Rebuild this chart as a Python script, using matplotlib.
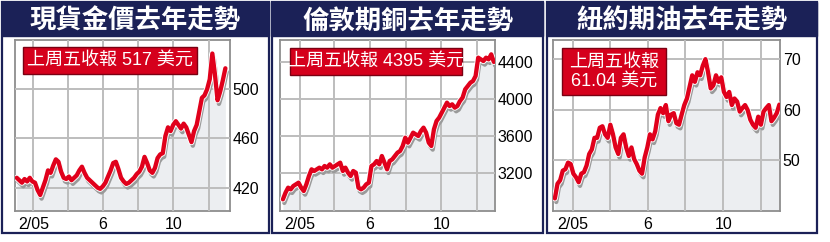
import matplotlib
matplotlib.use("Agg")
import matplotlib.pyplot as plt
import matplotlib.patches as mpatches
import matplotlib.patheffects as pe
import pandas as pd

W, H = 830, 242

# values, one per ~4 trading days
gold = [428, 426, 424, 427, 425, 428, 425, 424, 418, 414, 420, 426, 434, 432, 438, 443,
        441, 433, 428, 427, 429, 426, 428, 430, 434, 437, 432, 428, 426, 424, 422, 420,
        419, 421, 424, 429, 434, 440, 441, 435, 428, 425, 423, 424, 426, 428, 431, 433,
        437, 445, 440, 434, 432, 436, 444, 447, 448, 462, 469, 466, 471, 474, 471, 468,
        472, 469, 463, 457, 466, 471, 482, 493, 495, 500, 508, 529, 512, 491, 498, 507, 517]

copper = [2916, 2988, 3042, 3024, 3060, 3078, 3096, 3042, 3006, 3078, 3168, 3240, 3222, 3240,
          3258, 3240, 3276, 3258, 3294, 3258, 3276, 3294, 3312, 3222, 3258, 3204, 3168, 3222,
          3204, 3042, 3024, 3042, 3078, 3096, 3276, 3294, 3330, 3294, 3384, 3312, 3240, 3330,
          3348, 3384, 3420, 3438, 3492, 3582, 3528, 3582, 3636, 3618, 3600, 3654, 3690, 3636,
          3528, 3492, 3672, 3762, 3798, 3852, 3906, 3960, 3924, 3942, 3906, 3924, 3978, 4014,
          4104, 4140, 4176, 4194, 4248, 4446, 4428, 4410, 4446, 4428, 4482, 4400]

oil = [42.4, 45.3, 46.0, 47.9, 48.2, 49.5, 49.2, 47.3, 46.6, 45.6, 47.3, 47.6, 48.9, 51.2,
       52.1, 54.4, 54.4, 56.4, 56.7, 55.1, 54.4, 57.0, 55.1, 52.5, 51.2, 54.4, 55.1, 52.5,
       50.8, 52.5, 50.2, 49.2, 47.9, 47.3, 50.5, 52.5, 55.1, 54.1, 55.7, 59.0, 60.3, 59.3,
       60.9, 57.7, 59.0, 59.3, 57.3, 57.0, 59.0, 60.9, 62.2, 64.5, 66.8, 65.5, 67.4, 66.8,
       68.7, 70.0, 67.4, 64.2, 64.8, 66.8, 65.5, 66.4, 63.5, 62.5, 63.5, 60.9, 62.2, 61.6,
       59.6, 60.3, 60.9, 59.9, 58.0, 57.0, 56.4, 58.6, 57.0, 59.6, 60.3, 60.9, 57.7, 58.4,
       59.3, 61.0]

series = [gold, copper, oil]
titles = ["現貨金價去年走勢", "倫敦期銅去年走勢", "紐約期油去年走勢"]
notes = ["上周五收報 517 美元", "上周五收報 4395 美元", "上周五收報\n61.04 美元"]
yticks = [[420, 460, 500], [3200, 3600, 4000, 4400], [50, 60, 70]]
ylims = [(401, 540), (2790, 4637), (39.9, 73.8)]
xlims = [("2004-12-31", "2006-01-07"), ("2004-12-29", "2006-01-01"), ("2004-12-31", "2005-12-31")]
month_lines = ["2005-02-01", "2005-04-01", "2005-06-01", "2005-08-01", "2005-10-01", "2005-12-01"]
month_labels = ["2/05", "", "6", "", "10", ""]

# layout in pixels (x from left, y from top)
panels = [(2, 269), (272, 543), (547, 817)]
axes_x = [(15, 230), (280, 495), (553, 780)]
note_boxes = [(23, 47, 197, 74), (290, 48, 462, 75), (562, 48, 666, 95)]

NAVY = "#1b2157"
RED = "#e0001b"
CJK = ["Liberation Sans", "Noto Sans CJK TC"]


def fx(px):
    return px / W


def fy(py):
    return 1 - py / H


fig = plt.figure(figsize=(W / 100, H / 100), dpi=100)
fig.patch.set_facecolor("white")

for i in range(3):
    x0, x1 = panels[i]
    # panel frame and header
    fig.patches.append(mpatches.Rectangle((fx(x0), fy(233)), fx(x1 - x0), (233 - 2) / H,
                                          transform=fig.transFigure, fc="white", ec=NAVY,
                                          lw=1.6, zorder=-2))
    fig.patches.append(mpatches.Rectangle((fx(x0), fy(36)), fx(x1 - x0), 34 / H,
                                          transform=fig.transFigure, fc=NAVY, ec=NAVY,
                                          lw=1.0, zorder=-1))
    fig.text(fx((x0 + x1) / 2), fy(21), titles[i], color="white", fontsize=19,
             fontweight="heavy", family="Noto Sans CJK TC", ha="center", va="center")

    a0, a1 = axes_x[i]
    ax = fig.add_axes([fx(a0), fy(211), fx(a1 - a0), (211 - 40) / H])
    dates = pd.date_range("2005-01-03", "2005-12-30", periods=len(series[i]))
    ax.set_xlim(pd.Timestamp(xlims[i][0]), pd.Timestamp(xlims[i][1]))
    ax.set_ylim(*ylims[i])

    ax.fill_between(dates, series[i], ylims[i][0], color="#eceef1", lw=0, zorder=1)
    ax.plot(dates, series[i], color=RED, lw=3.1, zorder=3, solid_capstyle="round",
            path_effects=[pe.SimpleLineShadow(offset=(1.0, -2.6), shadow_color="#9a9a9a", alpha=1.0),
                          pe.Stroke(linewidth=4.4, foreground="white"), pe.Normal()])

    ax.set_xticks([pd.Timestamp(d) for d in month_lines])
    ax.set_xticklabels(month_labels)
    ax.set_yticks(yticks[i])
    ax.set_yticklabels([str(v) for v in yticks[i]])
    ax.yaxis.tick_right()
    ax.tick_params(length=0, labelsize=11.5, colors="black")
    ax.tick_params(axis="y", pad=2)
    ax.tick_params(axis="x", pad=4)
    for lab in ax.get_xticklabels() + ax.get_yticklabels():
        lab.set_family("Liberation Sans")
    ax.grid(True, color="#bdbdbd", lw=1.4, zorder=2)
    ax.set_axisbelow(False)
    for sp in ax.spines.values():
        sp.set_color("#8e8e8e")
        sp.set_linewidth(1.3)
    ax.set_facecolor("white")

    bx0, by0, bx1, by1 = note_boxes[i]
    fig.patches.append(mpatches.Rectangle((fx(bx0), fy(by1)), fx(bx1 - bx0), (by1 - by0) / H,
                                          transform=fig.transFigure, fc="#d5001c", ec="#7a0012",
                                          lw=1.0, zorder=5))
    fig.text(fx((bx0 + bx1) / 2), fy((by0 + by1) / 2), notes[i], color="white", fontsize=13,
             family=CJK, ha="center", va="center", linespacing=1.15, zorder=6)

fig.savefig("out.png", dpi=100, facecolor="white")
